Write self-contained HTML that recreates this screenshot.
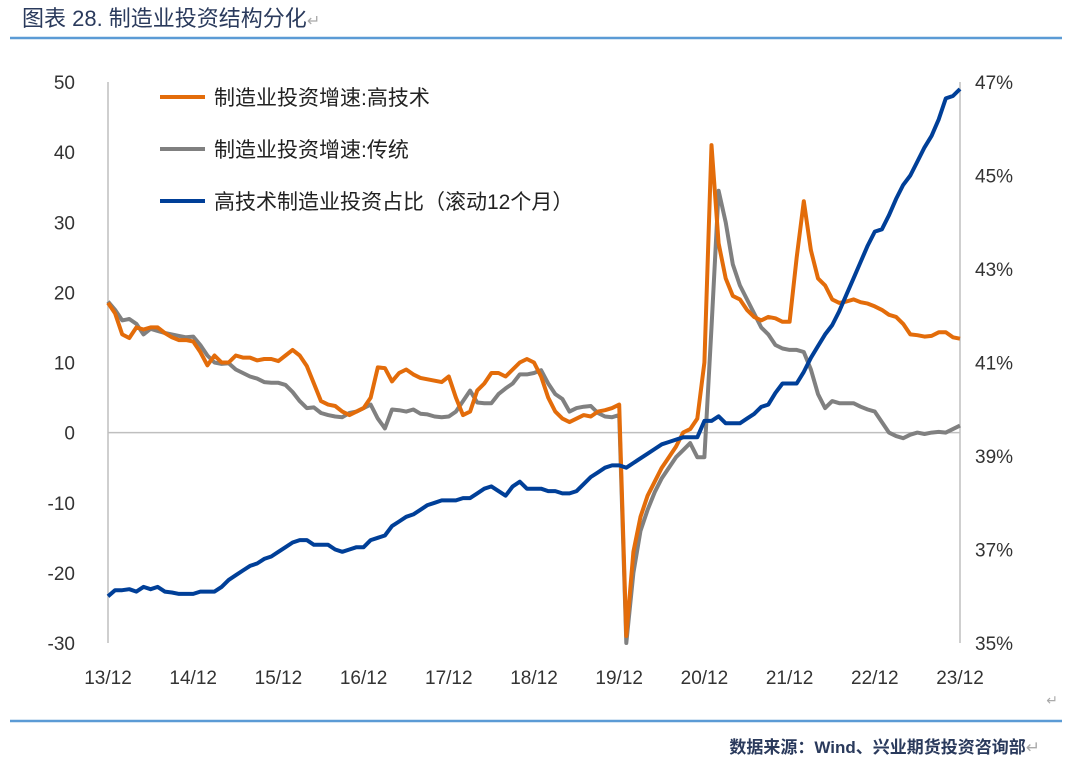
<!DOCTYPE html>
<html><head><meta charset="utf-8">
<style>
body{margin:0;background:#fff;width:1080px;height:765px;overflow:hidden;font-family:"Liberation Sans","Noto Sans CJK SC",sans-serif;}
svg text{font-family:"Liberation Sans","Noto Sans CJK SC",sans-serif;}
</style></head>
<body>
<svg id="chart" width="1080" height="765">
<text x="22" y="26" font-size="22" fill="#2a3a5c">图表 28. 制造业投资结构分化<tspan fill="#aaa" font-size="16">↵</tspan></text>
<line x1="10" y1="38" x2="1062" y2="38" stroke="#5b9bd5" stroke-width="2.5"/>
<line x1="10" y1="721" x2="1062" y2="721" stroke="#5b9bd5" stroke-width="2.5"/>
<text x="1040" y="753" font-size="17" font-weight="bold" fill="#2a3a5c" text-anchor="end">数据来源：Wind、兴业期货投资咨询部<tspan fill="#aaa" font-weight="normal">↵</tspan></text>
<text x="1058" y="705" font-size="14" fill="#aaa" text-anchor="end">↵</text>
<g id="axes"></g>
<g id="series"></g>
<g id="legend"></g>
</svg>
<script>
const xLabels=["13/12","14/12","15/12","16/12","17/12","18/12","19/12","20/12","21/12","22/12","23/12"];
const leftTicks=[50,40,30,20,10,0,-10,-20,-30];
const rightTicks=[47,45,43,41,39,37,35];
const hiTech=[18.5,17,14,13.5,15,14.7,15,15,14.2,13.6,13.2,13.2,13,11.5,9.6,11,10,10,11,10.7,10.7,10.3,10.5,10.5,10.2,11,11.8,11,9.5,7,4.5,4,3.8,3,2.5,3,3.5,5,9.3,9.2,7.3,8.5,9,8.3,7.8,7.6,7.4,7.2,8,5,2.5,3,6,7,8.5,8.5,8,9,10,10.5,10,8,5,3,2,1.5,2,2.5,2.3,3,3.2,3.5,4,-29,-17,-12,-9,-7,-5,-3.5,-2,0,0.5,2,10,41,27,22,19.5,19,17.5,16.5,16,16.5,16.3,15.8,15.8,25,33,26,22,21,19,18.5,18.7,19,18.6,18.4,18,17.5,16.8,16.5,15.5,14,13.9,13.7,13.8,14.3,14.3,13.6,13.4];
const traditional=[18.7,17.5,16,16.2,15.5,14,14.8,14.5,14.2,14,13.8,13.6,13.7,12.5,11,10,9.8,9.9,9,8.5,8,7.7,7.2,7.1,7.1,6.8,5.8,4.5,3.5,3.6,2.8,2.5,2.3,2.2,2.8,3,3.5,4,2,0.6,3.3,3.2,3,3.3,2.7,2.6,2.3,2.2,2.3,3,4.5,6,4.3,4.2,4.2,5.5,6.3,7,8.3,8.3,8.5,8.9,7,5.5,4.8,3,3.5,3.7,3.8,2.8,2.3,2.2,2.5,-30,-20,-14,-11,-8.5,-6.5,-5,-3.5,-2.5,-1.5,-3.5,-3.5,15,34.5,30,24,21,19,17,15,14,12.5,12,11.8,11.8,11.5,9,5.5,3.5,4.5,4.2,4.2,4.2,3.7,3.3,3,1.5,0,-0.5,-0.8,-0.3,0,-0.2,0,0.1,0,0.5,1];
const share=[36.0,36.13,36.13,36.15,36.1,36.2,36.15,36.2,36.1,36.08,36.05,36.05,36.05,36.1,36.1,36.1,36.2,36.35,36.45,36.55,36.65,36.7,36.8,36.85,36.95,37.05,37.15,37.2,37.2,37.1,37.1,37.1,37.0,36.95,37.0,37.05,37.05,37.2,37.25,37.3,37.5,37.6,37.7,37.75,37.85,37.95,38.0,38.05,38.05,38.05,38.1,38.1,38.2,38.3,38.35,38.25,38.15,38.35,38.45,38.3,38.3,38.3,38.25,38.25,38.2,38.2,38.25,38.4,38.55,38.65,38.75,38.8,38.8,38.75,38.85,38.95,39.05,39.15,39.25,39.3,39.35,39.4,39.4,39.4,39.75,39.75,39.85,39.7,39.7,39.7,39.8,39.9,40.05,40.1,40.35,40.55,40.55,40.55,40.8,41.1,41.35,41.6,41.8,42.1,42.45,42.8,43.15,43.5,43.8,43.85,44.15,44.5,44.8,45.0,45.3,45.6,45.85,46.2,46.65,46.7,46.85];
const NS="http://www.w3.org/2000/svg";
const X0=108,X1=960,YT=82,YB=643;
function x(i){return X0+(X1-X0)*i/120;}
function yL(v){return YT+(50-v)*(YB-YT)/80;}
function yR(v){return YT+(47-v)*(YB-YT)/12;}
function mk(tag,attrs,parent){const e=document.createElementNS(NS,tag);for(const k in attrs)e.setAttribute(k,attrs[k]);parent.appendChild(e);return e;}
const axes=document.getElementById('axes');
let a=mk('line',{x1:X0,y1:YT,x2:X0,y2:YB,stroke:'#bfbfbf','stroke-width':1.5},axes);


a=mk('line',{x1:X1,y1:YT,x2:X1,y2:YB,stroke:'#bfbfbf','stroke-width':1.5},axes);


a=mk('line',{x1:X0,y1:yL(0),x2:X1,y2:yL(0),stroke:'#bfbfbf','stroke-width':1.5},axes);


leftTicks.forEach(v=>{const t=mk('text',{x:75,y:yL(v)+7,'font-size':19,fill:'#333','text-anchor':'end'},axes);t.textContent=v;

});
rightTicks.forEach(v=>{const t=mk('text',{x:975,y:yR(v)+7,'font-size':19,fill:'#333'},axes);t.textContent=v+'%';

});
xLabels.forEach((l,k)=>{const t=mk('text',{x:x(k*12),y:684,'font-size':19,fill:'#333','text-anchor':'middle'},axes);t.textContent=l;

});
const ser=document.getElementById('series');
function line(arr,fy,col,name){const d=arr.map((v,i)=>(i?'L':'M')+x(i).toFixed(1)+','+fy(v).toFixed(1)).join('');
const p=mk('path',{d:d,fill:'none',stroke:col,'stroke-width':4,'stroke-linejoin':'round'},ser);

}
line(traditional,yL,'#808080','traditional-line');
line(hiTech,yL,'#e36c0a','hitech-line');
line(share,yR,'#003f98','share-line');
const lg=document.getElementById('legend');
const items=[["制造业投资增速:高技术",'#e36c0a'],["制造业投资增速:传统",'#808080'],["高技术制造业投资占比（滚动12个月）",'#003f98']];
items.forEach((it,k)=>{const y=97+k*52;
const l=mk('line',{x1:160,y1:y,x2:205,y2:y,stroke:it[1],'stroke-width':4},lg);


const t=mk('text',{x:214,y:y+8,'font-size':21,fill:'#222'},lg);t.textContent=it[0];

});
</script>
</body></html>
